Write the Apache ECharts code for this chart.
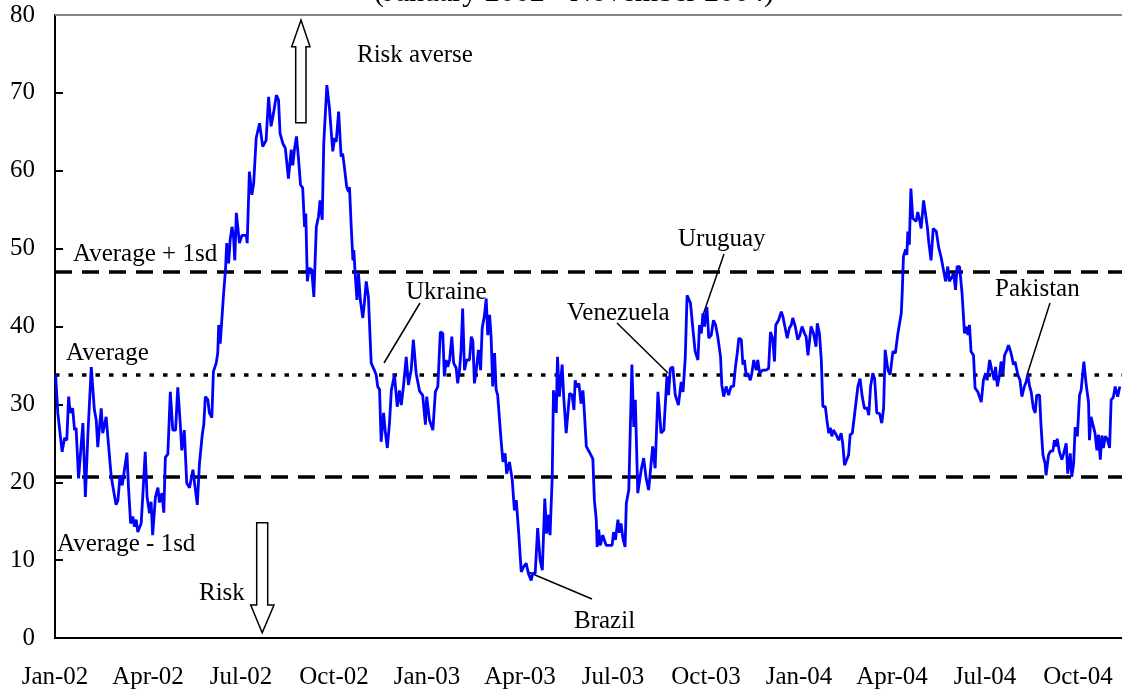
<!DOCTYPE html>
<html>
<head>
<meta charset="utf-8">
<script src="https://cdn.jsdelivr.net/npm/echarts@6/dist/echarts.min.js"></script>
<style>
  html, body { margin: 0; padding: 0; background: #fff; }
  #chart { width: 1122px; height: 694px; }
</style>
</head>
<body>
<div id="chart"></div>
<script>
// x = months since 1 Jan 2002, y = index value
var points2002 = [
  [0.02,33.8],[0.09,28.9],[0.23,23.9],[0.31,25.7],[0.38,25.4],[0.44,31.0],[0.49,28.9],[0.57,29.5],[0.63,26.7],[0.68,27.0],
  [0.76,20.5],[0.81,20.7],[0.90,27.6],[0.98,18.1],[1.06,26.0],[1.17,34.8],[1.27,29.3],[1.33,28.0],[1.38,24.5],[1.44,24.3],
  [1.49,29.5],[1.54,26.3],[1.65,28.4],[1.76,23.2],[1.81,20.9],[1.86,19.6],[1.97,17.1],[2.03,17.7],[2.10,20.9],[2.17,19.6],
  [2.24,21.6],[2.32,23.8],[2.37,19.4],[2.44,14.7],[2.51,15.6],[2.56,14.3],[2.62,15.2],[2.67,13.6],[2.78,14.7],[2.83,18.1],
  [2.91,23.9],[2.97,18.1],[3.05,16.0],[3.10,17.5],[3.15,13.2],[3.24,18.1],[3.32,19.3],[3.37,17.4],[3.45,18.6],[3.51,16.1],
  [3.56,23.2],[3.64,23.6],[3.72,31.6],[3.80,26.7],[3.89,26.7],[3.96,32.2],[4.04,27.6],[4.09,24.1],[4.17,26.7],[4.25,19.9],
  [4.34,19.3],[4.45,21.6],[4.51,21.8],[4.59,17.1],[4.66,22.4],[4.75,26.1],[4.80,27.4],[4.85,31.0],[4.93,30.6],[4.98,28.9],
  [5.06,28.3],[5.11,34.2],[5.20,35.3],[5.25,36.6],[5.28,40.2],[5.33,37.8],[5.37,38.0],[5.44,44.3],[5.50,47.3],[5.54,50.7],
  [5.60,48.1],[5.65,51.1],[5.71,52.8],[5.76,51.5],[5.80,48.5],[5.85,54.6],[5.95,50.7],[6.03,51.7],[6.17,51.7],[6.20,50.7],
  [6.27,59.9],[6.35,56.9],[6.41,58.4],[6.49,64.2],[6.60,66.1],[6.70,63.1],[6.81,63.9],[6.89,69.5],[6.97,65.7],[7.05,67.4],
  [7.14,69.7],[7.21,69.1],[7.26,64.8],[7.35,63.5],[7.43,62.9],[7.48,62.7],[7.53,59.0],[7.62,62.7],[7.67,60.7],[7.73,62.9],
  [7.79,64.4],[7.85,61.8],[7.92,58.2],[7.99,57.8],[8.05,52.8],[8.09,54.5],[8.14,45.8],[8.20,47.5],[8.28,47.3],[8.35,43.8],
  [8.43,52.8],[8.50,54.1],[8.55,56.2],[8.62,53.7],[8.67,63.5],[8.77,71.0],[8.85,68.2],[8.96,62.5],[9.02,64.2],[9.07,63.7],
  [9.15,67.6],[9.23,61.8],[9.28,62.2],[9.34,60.3],[9.41,57.9],[9.47,57.3],[9.50,57.9],[9.55,53.3],[9.61,48.5],[9.64,49.8],
  [9.68,47.0],[9.74,43.4],[9.79,46.8],[9.85,43.4],[9.93,41.1],[9.98,43.0],[10.04,45.8],[10.11,43.8],[10.20,35.3],[10.28,34.6],
  [10.36,33.8],[10.41,32.3],[10.47,31.9],[10.52,25.2],[10.60,28.9],[10.65,26.7],[10.72,24.4],[10.79,27.6],[10.85,31.8],[10.95,33.8],
  [11.04,29.7],[11.11,31.8],[11.17,29.9],[11.24,32.3],[11.33,36.1],[11.40,32.5],[11.49,34.4],[11.56,38.3],[11.65,34.0],[11.76,31.7],
  [11.86,31.2],[11.95,27.4],[11.99,31.0]
];
var points2003 = [
  [12.08,28.0],[12.19,26.7],[12.27,31.6],[12.35,32.3],[12.43,39.3],[12.51,39.1],[12.56,33.6],[12.62,35.7],[12.67,34.8],[12.73,35.7],
  [12.80,38.7],[12.86,35.3],[12.94,34.7],[12.99,32.7],[13.05,34.4],[13.10,37.0],[13.15,42.3],[13.21,34.4],[13.28,35.7],[13.37,35.7],
  [13.43,38.7],[13.48,38.1],[13.53,32.7],[13.59,34.4],[13.66,37.0],[13.73,34.4],[13.78,39.8],[13.85,41.3],[13.91,43.6],[13.96,38.9],
  [14.02,41.5],[14.07,38.5],[14.12,32.3],[14.18,36.6],[14.23,31.9],[14.28,31.2],[14.34,28.0],[14.39,25.4],[14.45,22.6],[14.52,23.7],
  [14.57,21.1],[14.66,22.6],[14.75,20.3],[14.82,16.4],[14.88,17.7],[14.96,13.4],[15.04,8.5],[15.11,9.1],[15.20,9.6],[15.27,8.3],
  [15.36,7.4],[15.41,8.3],[15.49,8.3],[15.57,14.1],[15.65,10.0],[15.72,8.7],[15.80,17.9],[15.86,13.4],[15.91,15.8],[15.97,13.2],
  [16.04,20.7],[16.08,31.8],[16.17,28.9],[16.21,36.1],[16.27,31.0],[16.36,35.1],[16.41,31.0],[16.49,26.3],[16.60,31.4],[16.68,31.2],
  [16.74,29.3],[16.78,33.1],[16.83,32.2],[16.90,32.7],[16.97,30.1],[17.03,31.8],[17.06,30.1],[17.14,24.6],[17.26,23.7],[17.35,23.0],
  [17.40,17.7],[17.46,15.2],[17.49,11.7],[17.54,13.9],[17.59,11.9],[17.67,13.2],[17.73,13.4],[17.78,11.9],[17.89,11.9],[17.97,11.9],
  [18.02,13.6],[18.08,12.6],[18.16,15.2],[18.21,13.5],[18.26,14.7],[18.32,12.8],[18.39,11.7],[18.43,17.3],[18.48,17.5],[18.51,19.0],
  [18.61,35.1],[18.67,27.1],[18.72,30.6],[18.80,18.6],[18.91,21.6],[18.99,23.1],[19.07,20.5],[19.15,19.0],[19.28,24.6],[19.36,21.8],
  [19.45,31.6],[19.55,26.3],[19.64,26.7],[19.74,33.6],[19.79,31.2],[19.85,34.6],[19.93,34.8],[20.01,31.2],[20.11,29.9],[20.20,32.9],
  [20.26,31.6],[20.33,35.9],[20.39,44.0],[20.50,43.0],[20.57,40.0],[20.65,36.8],[20.74,35.7],[20.79,40.2],[20.85,39.1],[20.90,41.7],
  [20.95,40.0],[21.03,42.5],[21.09,38.5],[21.17,38.9],[21.24,40.8],[21.31,40.2],[21.38,38.7],[21.47,36.1],[21.51,32.5],[21.57,31.0],
  [21.65,32.3],[21.73,31.2],[21.81,32.3],[21.89,32.3],[21.95,34.8],[22.01,36.6],[22.06,38.5],[22.14,38.3],[22.19,35.1],[22.24,35.7],
  [22.30,33.6],[22.35,34.0],[22.43,33.1],[22.48,34.0],[22.54,35.7],[22.62,34.4],[22.67,35.7],[22.73,34.0],[22.83,34.4],[22.94,34.4],
  [23.02,34.6],[23.08,39.3],[23.15,38.5],[23.21,35.5],[23.25,40.2],[23.34,40.8],[23.43,41.9],[23.48,41.3],[23.53,41.1],[23.62,38.5],
  [23.69,39.8],[23.75,40.2],[23.80,41.1],[23.88,40.0],[23.96,38.3]
];
var points2004 = [
  [24.02,38.8],[24.10,40.0],[24.18,39.1],[24.23,38.7],[24.29,36.3],[24.34,36.3],[24.39,40.0],[24.47,39.1],[24.55,37.4],[24.59,40.4],
  [24.66,39.1],[24.72,35.7],[24.77,29.7],[24.85,29.7],[24.90,28.0],[24.96,26.3],[25.01,27.0],[25.06,25.9],[25.11,26.7],[25.20,26.1],
  [25.28,25.4],[25.36,26.3],[25.41,25.0],[25.47,22.2],[25.52,22.0],[25.60,23.5],[25.65,26.1],[25.72,26.3],[25.79,28.6],[25.85,28.6],
  [25.90,32.3],[25.97,33.3],[26.04,31.0],[26.11,29.5],[26.20,29.5],[26.25,28.6],[26.31,32.3],[26.38,34.0],[26.44,33.3],[26.51,28.9],
  [26.60,28.8],[26.67,27.6],[26.73,29.5],[26.78,37.0],[26.87,34.4],[26.94,33.8],[27.03,36.8],[27.11,36.6],[27.19,39.1],[27.24,39.1],
  [27.30,41.7],[27.33,44.3],[27.37,49.0],[27.44,49.9],[27.48,49.2],[27.51,52.2],[27.56,50.5],[27.61,57.7],[27.67,53.9],[27.73,54.1],
  [27.78,53.5],[27.83,54.7],[27.89,53.7],[27.94,52.6],[28.02,56.2],[28.08,54.5],[28.14,52.8],[28.19,50.7],[28.26,48.5],[28.33,52.6],
  [28.43,52.2],[28.51,50.1],[28.59,48.8],[28.66,47.3],[28.73,45.8],[28.80,47.7],[28.85,45.8],[28.94,46.4],[28.99,46.8],[29.05,44.7],
  [29.10,47.7],[29.18,47.7],[29.26,44.3],[29.34,39.1],[29.39,40.0],[29.45,38.9],[29.50,40.2],[29.55,36.8],[29.63,36.3],[29.68,32.1],
  [29.77,31.6],[29.88,30.3],[29.95,33.1],[30.02,34.0],[30.07,33.1],[30.15,35.7],[30.22,34.4],[30.30,33.1],[30.34,34.8],[30.40,32.3],
  [30.47,33.8],[30.52,35.5],[30.58,33.8],[30.63,36.3],[30.70,36.9],[30.76,37.6],[30.84,36.6],[30.92,35.1],[30.97,35.5],[31.06,33.8],
  [31.13,33.1],[31.19,31.0],[31.27,32.3],[31.33,32.9],[31.38,33.8],[31.44,32.3],[31.49,31.6],[31.56,29.5],[31.62,28.9],[31.67,31.2],
  [31.76,31.2],[31.81,27.1],[31.87,23.5],[31.94,22.4],[31.97,20.9],[32.05,23.5],[32.11,24.0],[32.19,24.0],[32.24,25.4],[32.30,24.6],
  [32.33,25.6],[32.40,23.9],[32.48,22.9],[32.54,23.7],[32.62,25.0],[32.67,21.1],[32.75,23.7],[32.80,20.7],[32.86,22.4],[32.91,27.1],
  [32.98,25.9],[33.05,31.2],[33.10,31.8],[33.19,35.5],[33.26,32.7],[33.34,30.3],[33.37,25.4],[33.42,28.4],[33.48,28.4],[33.55,26.3],
  [33.61,24.1],[33.66,26.1],[33.72,22.9],[33.77,26.0],[33.82,24.4],[33.88,25.9],[33.94,25.6],[34.02,24.4],[34.07,30.6],[34.14,30.9],
  [34.20,32.3],[34.28,31.0],[34.35,32.3]
];

var quarterLabels = ['Jan-02', 'Apr-02', 'Jul-02', 'Oct-02', 'Jan-03', 'Apr-03', 'Jul-03', 'Oct-03',
  'Jan-04', 'Apr-04', 'Jul-04', 'Oct-04'];
var upperBand = 47.0;   // average + 1sd
var meanLevel = 33.8;   // average
var lowerBand = 20.7;   // average - 1sd

var serif = 'Liberation Serif, Times New Roman, serif';
var chart = echarts.init(document.getElementById('chart'));

function txt (text, x, y, size) {
  return {
    type: 'text', x: x, y: y, silent: true,
    style: { text: text, fontSize: size || 25, fontFamily: serif, fill: '#000', verticalAlign: 'middle' }
  }
}
function lead (x1, y1, x2, y2) {
  return { type: 'line', silent: true, shape: { x1: x1, y1: y1, x2: x2, y2: y2 }, style: { stroke: '#000', lineWidth: 1.5 } }
}
function arrow (pts) {
  return { type: 'polygon', silent: true, shape: { points: pts }, style: { fill: '#fff', stroke: '#000', lineWidth: 1.5 } }
}

var dashed = { color: '#000', width: 3.5, type: [17, 10] }
var dotted = { color: '#000', width: 3.5, type: [4.5, 9] }

var option = {
  animation: false,
  backgroundColor: '#fff',
  grid: { left: 55, right: 0, top: 15, bottom: 56 },
  xAxis: {
    type: 'value',
    min: 0,
    max: 34.42,
    interval: 3,
    axisLine: { show: true, lineStyle: { color: '#000', width: 2 } },
    axisTick: { show: false },
    splitLine: { show: false },
    axisLabel: {
      showMaxLabel: false,
      margin: 27,
      color: '#000',
      fontSize: 25,
      fontFamily: serif,
      formatter: function (v) { return quarterLabels[Math.round(v / 3)] || '' }
    }
  },
  yAxis: {
    type: 'value',
    min: 0,
    max: 80,
    interval: 10,
    axisLine: { show: true, lineStyle: { color: '#000', width: 2 } },
    axisTick: { show: true, inside: true, length: 8, lineStyle: { color: '#000', width: 2 } },
    splitLine: { show: false },
    axisLabel: { margin: 20, color: '#000', fontSize: 25, fontFamily: serif }
  },
  series: [{
    type: 'line',
    data: points2002.concat(points2003, points2004),
    showSymbol: false,
    symbol: 'none',
    lineStyle: { color: '#0000ff', width: 2.8 },
    z: 3,
    markLine: {
      silent: true,
      symbol: 'none',
      label: { show: false },
      z: 2,
      data: [
        { yAxis: upperBand, lineStyle: dashed },
        { yAxis: meanLevel, lineStyle: dotted },
        { yAxis: lowerBand, lineStyle: dashed },
        { yAxis: 80, lineStyle: { color: '#888', width: 2, type: 'solid' } }
      ]
    }
  }],
  graphic: [
    {
      type: 'text', x: 574, y: 8, silent: true,
      style: { text: '(January 2002 - November 2004)', fontSize: 30, fontFamily: serif, fill: '#000', align: 'center', verticalAlign: 'bottom' }
    },
    txt('Risk averse', 357, 55),
    txt('Average + 1sd', 73, 254),
    txt('Average', 66, 353),
    txt('Average - 1sd', 57, 544),
    txt('Risk', 199, 593),
    txt('Ukraine', 406, 292),
    txt('Venezuela', 567, 313),
    txt('Uruguay', 678, 239),
    txt('Pakistan', 995, 289),
    txt('Brazil', 574, 621),
    lead(420, 303, 384, 363),
    lead(617, 323, 668, 373),
    lead(724, 254, 703, 315),
    lead(1050, 303, 1027, 375),
    lead(528, 572, 592, 599),
    arrow([[301, 20], [310, 46.7], [306, 46.7], [306, 122.7], [295.7, 122.7], [295.7, 46.7], [291.7, 46.7]]),
    arrow([[256.7, 522.7], [267.7, 522.7], [267.7, 605], [274, 605], [262.2, 632.7], [250.7, 605], [256.7, 605]])
  ]
}
chart.setOption(option)
</script>
</body>
</html>
